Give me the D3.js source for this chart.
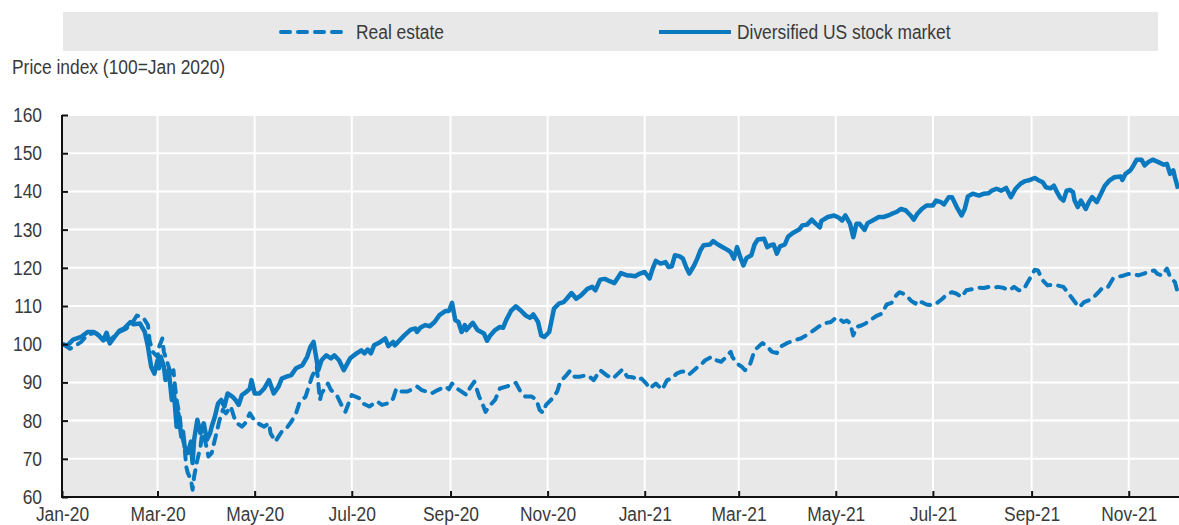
<!DOCTYPE html>
<html>
<head>
<meta charset="utf-8">
<script src="https://cdn.jsdelivr.net/npm/d3@7"></script>
<style>
  html, body { margin: 0; padding: 0; background: #fff; }
  svg { display: block; }
  text { font-family: "Liberation Sans", Arial, sans-serif; fill: #3a3a3a; }
</style>
</head>
<body>
<svg id="chart" width="1179" height="525"></svg>
<script>
// Real estate vs diversified US stock market, price index (100 = Jan 2020)
const seriesNames = ["Real estate", "Diversified US stock market"];

const stockMarket = [
  ["2020-01-02",100],["2020-01-04",99.5],["2020-01-08",101.2],["2020-01-13",101.9],["2020-01-17",103.2],["2020-01-21",103.2],["2020-01-24",102.3],["2020-01-27",101],["2020-01-29",103],["2020-01-31",100.2],
  ["2020-02-03",101.9],["2020-02-06",103.5],["2020-02-09",104.1],["2020-02-13",105.8],["2020-02-15",105.2],["2020-02-19",105.4],["2020-02-22",103.2],["2020-02-24",99.3],["2020-02-26",94.1],["2020-02-28",92.3],
  ["2020-03-01",95.8],["2020-03-02",93.7],["2020-03-03",96.7],["2020-03-05",94.1],["2020-03-06",90.6],["2020-03-08",93.2],["2020-03-10",85.4],["2020-03-11",88.9],["2020-03-13",78.4],["2020-03-14",81.9],
  ["2020-03-16",75.8],["2020-03-17",77.1],["2020-03-18",73.2],["2020-03-20",71.5],["2020-03-22",74.5],["2020-03-23",68.9],["2020-03-24",75],["2020-03-26",80.2],["2020-03-28",76.7],["2020-03-30",79.3],
  ["2020-04-01",75],["2020-04-03",76.7],["2020-04-04",78.4],["2020-04-06",81],["2020-04-08",84.5],["2020-04-10",85.4],["2020-04-12",83.7],["2020-04-14",87.1],["2020-04-17",86.3],["2020-04-19",85.4],
  ["2020-04-21",84.1],["2020-04-23",86.7],["2020-04-26",87.6],["2020-04-28",88.4],["2020-04-29",90.6],["2020-05-01",87.1],["2020-05-04",87.1],["2020-05-07",88.4],["2020-05-10",90.6],["2020-05-13",87.1],
  ["2020-05-16",88.9],["2020-05-18",91],["2020-05-21",91.5],["2020-05-24",91.9],["2020-05-27",93.7],["2020-05-31",94.5],["2020-06-03",96.7],["2020-06-05",99.3],["2020-06-07",100.6],["2020-06-10",93.2],
  ["2020-06-12",95.8],["2020-06-15",97.1],["2020-06-18",96.3],["2020-06-20",97.1],["2020-06-23",95.8],["2020-06-26",93.2],["2020-06-30",96.3],["2020-07-04",97.6],["2020-07-07",98.4],["2020-07-09",97.6],
  ["2020-07-11",98.6],["2020-07-13",97.6],["2020-07-15",99.7],["2020-07-19",100.6],["2020-07-22",101.5],["2020-07-24",99.5],["2020-07-27",100.6],["2020-07-28",99.7],["2020-07-31",101],["2020-08-03",102.3],
  ["2020-08-07",103.8],["2020-08-10",104.1],["2020-08-11",103.2],["2020-08-13",104.3],["2020-08-16",105],["2020-08-19",104.7],["2020-08-22",105.8],["2020-08-25",107.6],["2020-08-29",108.7],["2020-08-31",108.7],
  ["2020-09-02",110.8],["2020-09-04",106.3],["2020-09-06",105.8],["2020-09-08",103.2],["2020-09-10",105],["2020-09-11",103.7],["2020-09-15",105.6],["2020-09-18",103.7],["2020-09-22",102.8],["2020-09-24",100.9],
  ["2020-09-26",102.3],["2020-09-29",103.7],["2020-10-02",104.5],["2020-10-04",104.3],["2020-10-06",106.3],["2020-10-09",108.7],["2020-10-12",109.9],["2020-10-15",108.9],["2020-10-18",107.6],["2020-10-21",106.9],
  ["2020-10-23",107.8],["2020-10-26",105.8],["2020-10-28",102.3],["2020-10-30",101.9],["2020-11-02",103.2],["2020-11-05",109.3],["2020-11-08",110.6],["2020-11-11",111],["2020-11-13",111.9],["2020-11-16",113.4],
  ["2020-11-19",111.9],["2020-11-22",112.8],["2020-11-26",114.5],["2020-11-29",115],["2020-12-01",114.1],["2020-12-04",116.9],["2020-12-07",117.1],["2020-12-10",116.5],["2020-12-13",116],["2020-12-17",118.6],
  ["2020-12-21",118],["2020-12-23",118],["2020-12-26",117.8],["2020-12-29",118.5],["2021-01-01",118.9],["2021-01-04",117.2],["2021-01-06",119.8],["2021-01-08",121.8],["2021-01-11",121.1],["2021-01-14",121.5],
  ["2021-01-16",120.2],["2021-01-18",120.4],["2021-01-20",123.3],["2021-01-23",123],["2021-01-25",122.4],["2021-01-27",120.2],["2021-01-29",118.5],["2021-02-01",120.6],["2021-02-03",122.4],["2021-02-05",124.6],
  ["2021-02-07",125.9],["2021-02-11",126.1],["2021-02-13",127],["2021-02-16",126.1],["2021-02-19",125.4],["2021-02-22",124.7],["2021-02-24",124.1],["2021-02-26",122.4],["2021-02-28",125.4],["2021-03-02",122.8],
  ["2021-03-04",120.6],["2021-03-06",122.6],["2021-03-09",123.3],["2021-03-11",126.1],["2021-03-13",127.4],["2021-03-17",127.6],["2021-03-19",125.4],["2021-03-21",125.9],["2021-03-23",126.1],["2021-03-25",123.7],
  ["2021-03-27",125.6],["2021-03-30",126.1],["2021-04-01",128.1],["2021-04-04",129.1],["2021-04-08",130],["2021-04-10",131.1],["2021-04-13",131.3],["2021-04-16",132.6],["2021-04-18",131.7],["2021-04-21",130.6],
  ["2021-04-22",132.3],["2021-04-26",133.3],["2021-04-30",133.7],["2021-05-03",133.1],["2021-05-05",132.4],["2021-05-07",133.7],["2021-05-10",131.5],["2021-05-12",128],["2021-05-14",131.5],["2021-05-16",131.5],
  ["2021-05-19",129.9],["2021-05-21",131.7],["2021-05-25",132.6],["2021-05-28",133.3],["2021-05-31",133.3],["2021-06-03",133.7],["2021-06-05",134.1],["2021-06-08",134.6],["2021-06-11",135.4],["2021-06-14",135],
  ["2021-06-17",133.7],["2021-06-19",132.6],["2021-06-21",134],["2021-06-24",135.4],["2021-06-27",136.3],["2021-07-01",136.3],["2021-07-03",137.6],["2021-07-06",137.2],["2021-07-08",136.6],["2021-07-11",138.5],
  ["2021-07-13",138.5],["2021-07-16",135.9],["2021-07-19",133.7],["2021-07-21",135.4],["2021-07-23",138.7],["2021-07-26",139.4],["2021-07-30",138.9],["2021-08-02",139.4],["2021-08-05",139.5],["2021-08-07",140.2],
  ["2021-08-10",140.7],["2021-08-13",140.2],["2021-08-16",140.9],["2021-08-19",138.5],["2021-08-22",140.7],["2021-08-25",142],["2021-08-28",142.7],["2021-08-31",143],["2021-09-03",143.5],["2021-09-05",143],
  ["2021-09-08",142.4],["2021-09-10",141.1],["2021-09-13",140.8],["2021-09-15",141.5],["2021-09-17",139.8],["2021-09-19",138.3],["2021-09-21",137.6],["2021-09-23",140.2],["2021-09-25",140.4],["2021-09-27",139.8],
  ["2021-09-28",137.6],["2021-09-30",135.9],["2021-10-02",137.6],["2021-10-05",135.4],["2021-10-07",137.2],["2021-10-09",138.5],["2021-10-12",137.2],["2021-10-15",139.8],["2021-10-17",141.5],["2021-10-20",142.9],
  ["2021-10-23",143.7],["2021-10-27",143.9],["2021-10-28",143],["2021-10-30",144.6],["2021-11-02",145.5],["2021-11-04",146.8],["2021-11-06",148.3],["2021-11-09",148.3],["2021-11-11",146.8],["2021-11-13",147.6],
  ["2021-11-16",148.3],["2021-11-20",147.6],["2021-11-23",147],["2021-11-25",147.2],["2021-11-27",144.6],["2021-11-29",145.5],["2021-11-30",143.7],["2021-12-02",140.7]
];

const realEstate = [
  ["2020-01-02",100],["2020-01-06",98.8],["2020-01-09",99.5],["2020-01-13",100.6],["2020-01-17",102.5],["2020-01-22",103],["2020-01-27",101.5],["2020-01-31",101],["2020-02-05",103],["2020-02-10",104],
  ["2020-02-14",105.5],["2020-02-17",107.5],["2020-02-21",107],["2020-02-24",105],["2020-02-25",101],["2020-02-27",98],["2020-03-01",96.7],["2020-03-02",99.3],["2020-03-04",101.5],["2020-03-05",98],
  ["2020-03-06",96.7],["2020-03-08",94.1],["2020-03-10",91.5],["2020-03-11",93.2],["2020-03-12",88.9],["2020-03-13",85.4],["2020-03-15",81],["2020-03-16",76.7],["2020-03-18",73.2],["2020-03-19",68],
  ["2020-03-20",66.3],["2020-03-22",64.5],["2020-03-23",61.9],["2020-03-24",65.4],["2020-03-26",69.7],["2020-03-28",73.2],["2020-03-29",76.7],["2020-03-31",74.5],["2020-04-02",70.6],["2020-04-04",71.5],
  ["2020-04-06",75],["2020-04-07",76.7],["2020-04-09",80.2],["2020-04-11",82.8],["2020-04-13",81.9],["2020-04-16",83.7],["2020-04-18",81],["2020-04-20",79.3],["2020-04-23",78.4],["2020-04-25",79.3],
  ["2020-04-28",81.9],["2020-04-30",80.6],["2020-05-03",79.3],["2020-05-07",78.4],["2020-05-10",79.3],["2020-05-11",76.7],["2020-05-14",74.5],["2020-05-16",75.8],["2020-05-18",77.1],["2020-05-21",78],
  ["2020-05-24",79.7],["2020-05-27",81.9],["2020-05-29",84.5],["2020-06-02",86.3],["2020-06-04",88.9],["2020-06-06",91.5],["2020-06-08",93.2],["2020-06-09",94.1],["2020-06-11",85.4],["2020-06-12",87.1],
  ["2020-06-14",88.4],["2020-06-16",89.7],["2020-06-18",88],["2020-06-22",86.3],["2020-06-25",83.7],["2020-06-27",82.3],["2020-06-29",84.5],["2020-07-01",86.7],["2020-07-06",85.8],["2020-07-08",84.5],
  ["2020-07-12",83.7],["2020-07-17",85],["2020-07-20",84.1],["2020-07-25",84.7],["2020-07-27",85.8],["2020-07-29",88.4],["2020-08-01",87.6],["2020-08-05",87.6],["2020-08-11",88.9],["2020-08-14",88],
  ["2020-08-17",87.6],["2020-08-20",87.1],["2020-08-24",88],["2020-08-29",88.9],["2020-08-31",88.2],["2020-09-02",89.7],["2020-09-05",88.4],["2020-09-08",87.6],["2020-09-11",86.7],["2020-09-13",88.4],
  ["2020-09-16",90.2],["2020-09-19",86.3],["2020-09-21",84.5],["2020-09-23",82.3],["2020-09-26",84.1],["2020-09-29",85.4],["2020-10-02",88.4],["2020-10-06",88.9],["2020-10-09",89.3],["2020-10-12",89.9],
  ["2020-10-15",87.6],["2020-10-18",86.3],["2020-10-22",86.3],["2020-10-25",85.4],["2020-10-27",82.8],["2020-10-29",82.1],["2020-10-31",84.1],["2020-11-04",85.8],["2020-11-07",87.6],["2020-11-09",90.2],
  ["2020-11-12",91.5],["2020-11-15",93],["2020-11-18",91.5],["2020-11-21",91.5],["2020-11-26",91.9],["2020-11-30",90.6],["2020-12-04",93.2],["2020-12-08",91.9],["2020-12-12",91],["2020-12-18",93.4],
  ["2020-12-21",91.5],["2020-12-23",91.4],["2020-12-25",91.3],["2020-12-27",90.6],["2020-12-30",91],["2021-01-02",89.7],["2021-01-04",88.4],["2021-01-08",89.7],["2021-01-12",88.1],["2021-01-15",90.6],
  ["2021-01-18",91],["2021-01-21",92.3],["2021-01-24",92.8],["2021-01-27",92.9],["2021-01-29",92.1],["2021-02-02",93.6],["2021-02-05",94.5],["2021-02-08",95.8],["2021-02-12",96.7],["2021-02-15",95.8],
  ["2021-02-18",95.4],["2021-02-20",96.2],["2021-02-24",98],["2021-02-25",96.7],["2021-02-28",94.9],["2021-03-03",94.1],["2021-03-05",93.2],["2021-03-08",94.5],["2021-03-10",97.1],["2021-03-12",98.8],
  ["2021-03-16",100.3],["2021-03-19",99.3],["2021-03-22",98],["2021-03-25",97.7],["2021-03-28",99.5],["2021-03-31",100.2],["2021-04-04",100.9],["2021-04-09",101.5],["2021-04-12",102.2],["2021-04-16",103.3],
  ["2021-04-19",104.2],["2021-04-23",105.4],["2021-04-28",105.8],["2021-05-01",106.9],["2021-05-03",106.7],["2021-05-06",105.8],["2021-05-08",106.2],["2021-05-10",105.5],["2021-05-12",102.3],["2021-05-14",104.5],
  ["2021-05-17",104.9],["2021-05-20",105.5],["2021-05-24",106.7],["2021-05-27",107.5],["2021-05-30",108],["2021-06-02",110.4],["2021-06-05",110.8],["2021-06-08",112.8],["2021-06-10",113.6],["2021-06-14",113],
  ["2021-06-17",111.5],["2021-06-20",110.6],["2021-06-21",111.5],["2021-06-25",110.8],["2021-06-27",110.4],["2021-06-30",110.2],["2021-07-03",110.6],["2021-07-07",111.9],["2021-07-10",113.2],["2021-07-13",113.6],
  ["2021-07-16",113.2],["2021-07-19",112.3],["2021-07-22",114.1],["2021-07-27",114.5],["2021-07-30",114.8],["2021-08-02",114.7],["2021-08-05",115],["2021-08-08",114.8],["2021-08-11",115],["2021-08-14",114.8],
  ["2021-08-18",114.1],["2021-08-21",115],["2021-08-24",114.1],["2021-08-27",114.3],["2021-08-29",115.8],["2021-09-01",118],["2021-09-03",119.5],["2021-09-05",119.3],["2021-09-08",116.7],["2021-09-11",115.4],
  ["2021-09-14",115.6],["2021-09-17",115.4],["2021-09-21",115],["2021-09-23",113.9],["2021-09-26",112.3],["2021-09-29",110.6],["2021-10-01",109.7],["2021-10-04",111],["2021-10-07",111.5],["2021-10-10",112.3],
  ["2021-10-13",113.6],["2021-10-16",115],["2021-10-19",115],["2021-10-22",117.1],["2021-10-26",117.7],["2021-10-29",118],["2021-11-01",118.4],["2021-11-04",118.4],["2021-11-07",118],["2021-11-10",118.4],
  ["2021-11-13",118.9],["2021-11-17",119.3],["2021-11-19",118.4],["2021-11-22",118],["2021-11-25",119.8],["2021-11-27",117.6],["2021-11-29",116.7],["2021-11-30",116.3],["2021-12-02",113.2]
];

const yTicks = [60, 70, 80, 90, 100, 110, 120, 130, 140, 150, 160];
const xTickDates = ["2020-01-01","2020-03-01","2020-05-01","2020-07-01","2020-09-01","2020-11-01",
                    "2021-01-01","2021-03-01","2021-05-01","2021-07-01","2021-09-01","2021-11-01"];

const parse = d3.timeParse("%Y-%m-%d");
const blue = "#0a79bf";
const panel = "#e8e8e8";
const fontSize = 20;
const squeeze = 0.87;   // the original typeface is a narrow sans

const svg = d3.select("#chart");
const plot = { left: 62, right: 1179, top: 115, bottom: 497 };

const x = d3.scaleTime()
    .domain([new Date(2020, 0, 1), new Date(2021, 11, 2, 14)])
    .range([plot.left, plot.right]);
const y = d3.scaleLinear()
    .domain([60, 160])
    .range([plot.bottom, plot.top]);

const narrowText = (sel, tx, ty) => sel
    .attr("transform", `translate(${tx},${ty}) scale(${squeeze},1)`)
    .attr("font-size", fontSize);

// legend band
svg.append("rect")
    .attr("x", 63).attr("y", 12)
    .attr("width", 1095).attr("height", 39)
    .attr("fill", panel);

const legend = [
    { name: seriesNames[0], dash: "9,8", x1: 281, x2: 349, tx: 356 },
    { name: seriesNames[1], dash: null, x1: 659, x2: 731, tx: 737 }
];
legend.forEach(d => {
    svg.append("line")
        .attr("x1", d.x1).attr("x2", d.x2)
        .attr("y1", 32).attr("y2", 32)
        .attr("stroke", blue)
        .attr("stroke-width", 4)
        .attr("stroke-linecap", d.dash ? "round" : "butt")
        .attr("stroke-dasharray", d.dash);
    svg.append("text")
        .call(narrowText, d.tx, 39)
        .text(d.name);
});

svg.append("text")
    .call(narrowText, 12, 74)
    .text("Price index (100=Jan 2020)");

// plot panel and grid
svg.append("rect")
    .attr("x", plot.left).attr("y", plot.top)
    .attr("width", plot.right - plot.left).attr("height", plot.bottom - plot.top)
    .attr("fill", panel);

svg.append("g")
    .selectAll("line")
    .data(yTicks)
    .join("line")
    .attr("x1", plot.left).attr("x2", plot.right)
    .attr("y1", d => y(d)).attr("y2", d => y(d))
    .attr("stroke", "#fff").attr("stroke-width", 2);

svg.append("g")
    .selectAll("line")
    .data(xTickDates.map(parse))
    .join("line")
    .attr("x1", d => x(d)).attr("x2", d => x(d))
    .attr("y1", plot.top).attr("y2", plot.bottom)
    .attr("stroke", "#fff").attr("stroke-width", 2);

// series
svg.append("clipPath").attr("id", "clip")
    .append("rect")
    .attr("x", plot.left).attr("y", plot.top - 5)
    .attr("width", plot.right - plot.left).attr("height", plot.bottom - plot.top + 5);

const line = d3.line()
    .x(d => x(parse(d[0])))
    .y(d => y(d[1]));

svg.append("path")
    .datum(realEstate)
    .attr("clip-path", "url(#clip)")
    .attr("fill", "none")
    .attr("stroke", blue)
    .attr("stroke-width", 4)
    .attr("stroke-linecap", "round")
    .attr("stroke-linejoin", "round")
    .attr("stroke-dasharray", "9,8")
    .attr("d", line);

svg.append("path")
    .datum(stockMarket)
    .attr("clip-path", "url(#clip)")
    .attr("fill", "none")
    .attr("stroke", blue)
    .attr("stroke-width", 4.5)
    .attr("stroke-linejoin", "round")
    .attr("d", line);

// axes
const yAxis = svg.append("g")
    .attr("transform", `translate(${plot.left},0)`)
    .call(d3.axisLeft(y).tickValues(yTicks).tickSize(-6).tickPadding(0));
const xAxis = svg.append("g")
    .attr("transform", `translate(0,${plot.bottom})`)
    .call(d3.axisBottom(x).tickValues(xTickDates.map(parse)).tickSize(-6).tickPadding(0)
        .tickFormat(d3.timeFormat("%b-%y")));

[yAxis, xAxis].forEach(g => {
    g.attr("font-family", null).attr("font-size", null);
    g.select(".domain").attr("stroke", "#111").attr("stroke-width", 2);
    g.selectAll(".tick line").attr("stroke", "#111").attr("stroke-width", 2);
    g.selectAll(".tick text").attr("fill", "#3a3a3a").attr("x", null).attr("y", null).attr("dy", null);
});
yAxis.selectAll(".tick text").call(narrowText, -20, 6.5);
xAxis.selectAll(".tick text").call(narrowText, 0, 23.5);
xAxis.select(".domain").attr("d", `M${plot.left},0H${plot.right}`);
yAxis.select(".domain").attr("d", `M0,${plot.bottom + 1}V${plot.top}`);
</script>
</body>
</html>
